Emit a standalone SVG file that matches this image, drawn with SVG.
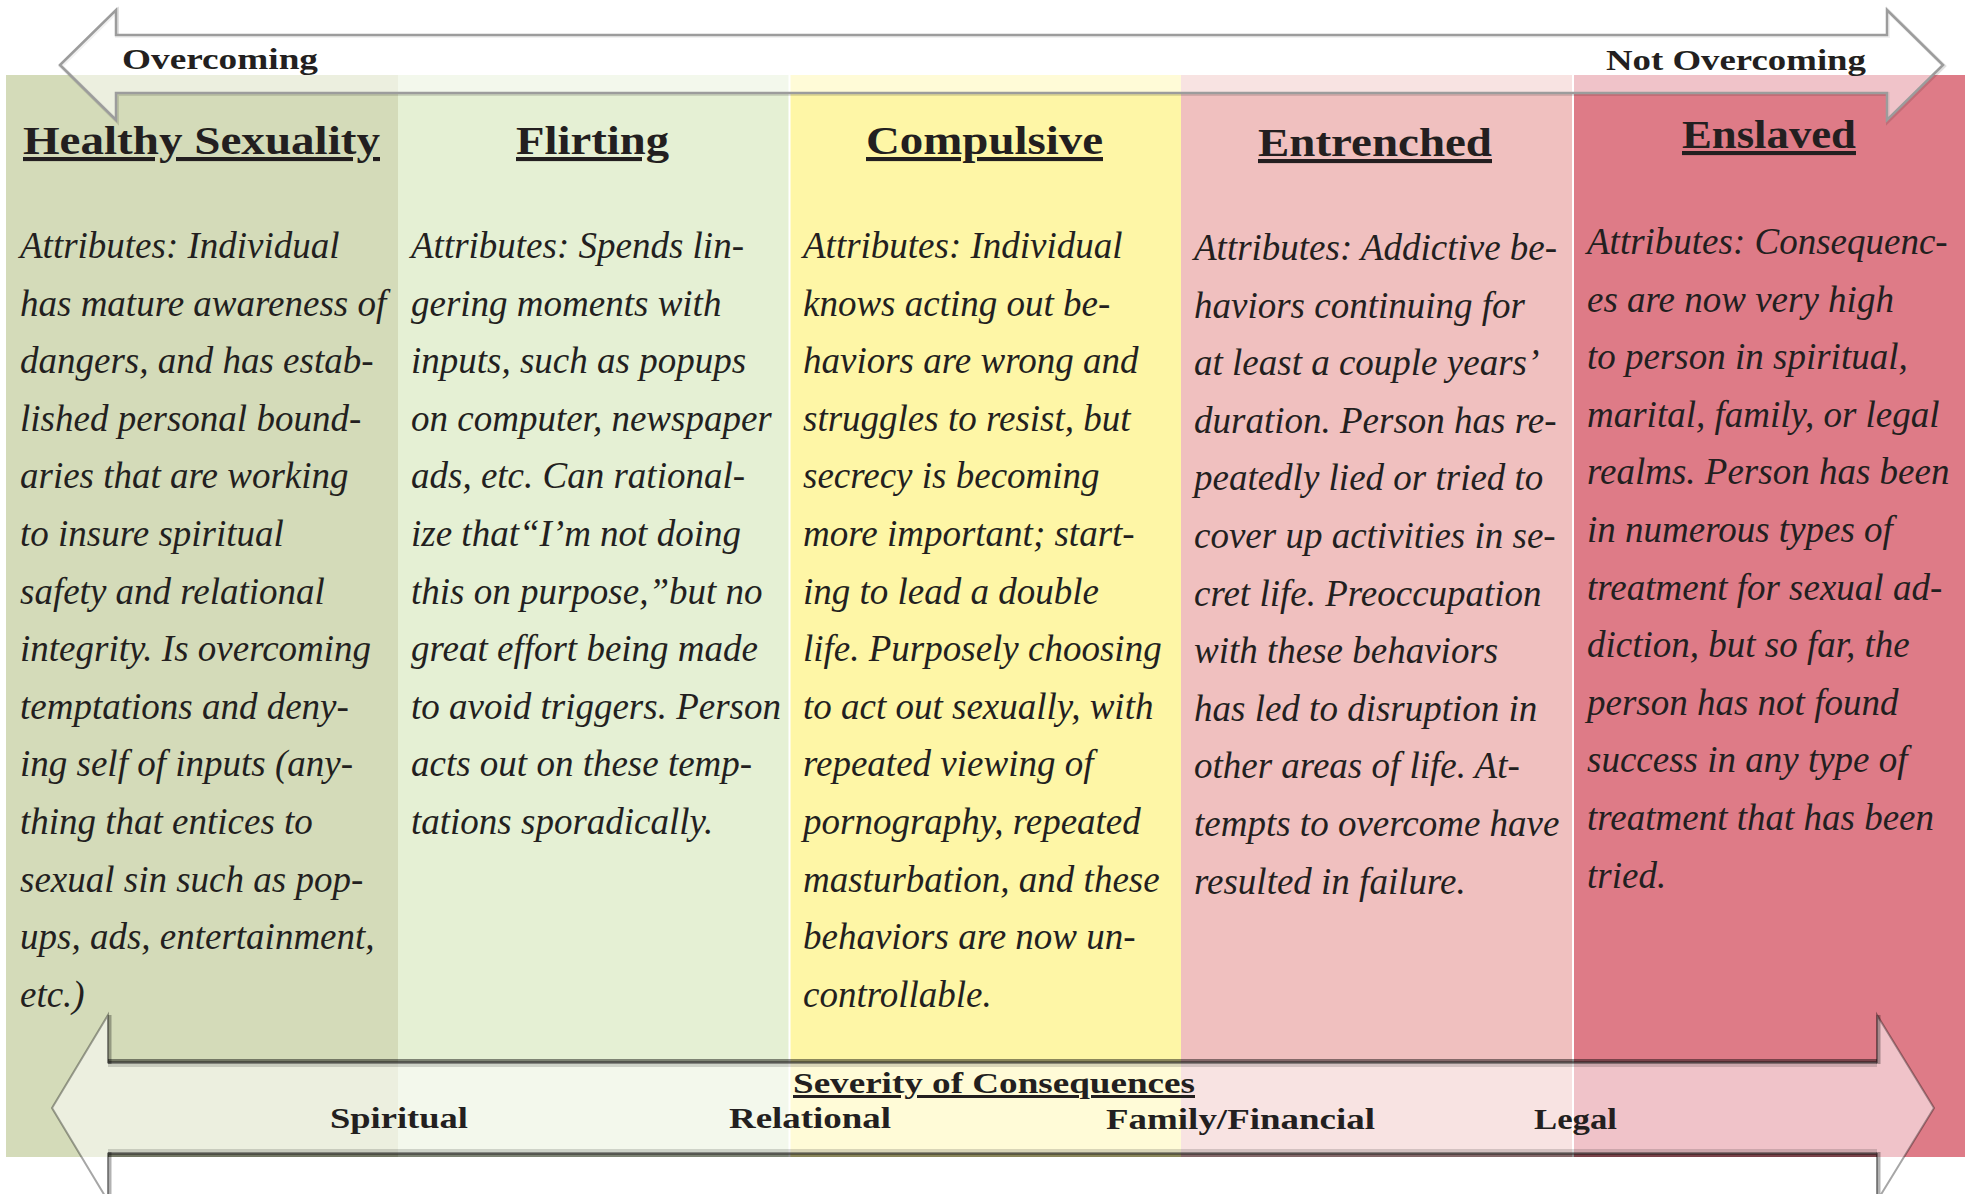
<svg xmlns="http://www.w3.org/2000/svg" width="1973" height="1194" viewBox="0 0 1973 1194">
<style>
.panel{stroke:none}
.head{font-family:"Liberation Serif","Times New Roman",serif;font-weight:bold;font-size:41px;fill:#231f20;text-anchor:middle;text-decoration:underline}
.body{font-family:"Liberation Serif","Times New Roman",serif;font-style:italic;font-size:37px;fill:#231f20}
.lbl{font-family:"Liberation Serif","Times New Roman",serif;font-weight:bold;font-size:30px;fill:#231f20}
.sev{text-decoration:underline}
.arrowfill{fill:#ffffff;fill-opacity:0.55}
.sep{stroke:#ffffff;stroke-width:2}
</style>
<rect width="1973" height="1194" fill="#ffffff"/>

<g id="col-healthy">
<rect class="panel" x="6" y="75" width="392" height="1082" fill="#d4dbb9"/>
<text class="head" x="201.5" y="154" textLength="357" lengthAdjust="spacingAndGlyphs">Healthy Sexuality</text>
<text class="body" x="20" y="258">
<tspan x="20">Attributes: Individual</tspan>
<tspan x="20" dy="57.6">has mature awareness of</tspan>
<tspan x="20" dy="57.6">dangers, and has estab-</tspan>
<tspan x="20" dy="57.6">lished personal bound-</tspan>
<tspan x="20" dy="57.6">aries that are working</tspan>
<tspan x="20" dy="57.6">to insure spiritual</tspan>
<tspan x="20" dy="57.6">safety and relational</tspan>
<tspan x="20" dy="57.6">integrity. Is overcoming</tspan>
<tspan x="20" dy="57.6">temptations and deny-</tspan>
<tspan x="20" dy="57.6">ing self of inputs (any-</tspan>
<tspan x="20" dy="57.6">thing that entices to</tspan>
<tspan x="20" dy="57.6">sexual sin such as pop-</tspan>
<tspan x="20" dy="57.6">ups, ads, entertainment,</tspan>
<tspan x="20" dy="57.6">etc.)</tspan>
</text>
</g>

<g id="col-flirting">
<rect class="panel" x="398" y="75" width="392" height="1082" fill="#e5f0d4"/>
<text class="head" x="592.5" y="154" textLength="153" lengthAdjust="spacingAndGlyphs">Flirting</text>
<text class="body" x="411" y="258">
<tspan x="411">Attributes: Spends lin-</tspan>
<tspan x="411" dy="57.6">gering moments with</tspan>
<tspan x="411" dy="57.6">inputs, such as popups</tspan>
<tspan x="411" dy="57.6">on computer, newspaper</tspan>
<tspan x="411" dy="57.6">ads, etc. Can rational-</tspan>
<tspan x="411" dy="57.6">ize that“I’m not doing</tspan>
<tspan x="411" dy="57.6">this on purpose,”but no</tspan>
<tspan x="411" dy="57.6">great effort being made</tspan>
<tspan x="411" dy="57.6">to avoid triggers. Person</tspan>
<tspan x="411" dy="57.6">acts out on these temp-</tspan>
<tspan x="411" dy="57.6">tations sporadically.</tspan>
</text>
</g>

<g id="col-compulsive">
<rect class="panel" x="790" y="75" width="391" height="1082" fill="#fef6a6"/>
<text class="head" x="984.5" y="154" textLength="237" lengthAdjust="spacingAndGlyphs">Compulsive</text>
<text class="body" x="803" y="258">
<tspan x="803">Attributes: Individual</tspan>
<tspan x="803" dy="57.6">knows acting out be-</tspan>
<tspan x="803" dy="57.6">haviors are wrong and</tspan>
<tspan x="803" dy="57.6">struggles to resist, but</tspan>
<tspan x="803" dy="57.6">secrecy is becoming</tspan>
<tspan x="803" dy="57.6">more important; start-</tspan>
<tspan x="803" dy="57.6">ing to lead a double</tspan>
<tspan x="803" dy="57.6">life. Purposely choosing</tspan>
<tspan x="803" dy="57.6">to act out sexually, with</tspan>
<tspan x="803" dy="57.6">repeated viewing of</tspan>
<tspan x="803" dy="57.6">pornography, repeated</tspan>
<tspan x="803" dy="57.6">masturbation, and these</tspan>
<tspan x="803" dy="57.6">behaviors are now un-</tspan>
<tspan x="803" dy="57.6">controllable.</tspan>
</text>
</g>

<g id="col-entrenched">
<rect class="panel" x="1181" y="75" width="392" height="1082" fill="#f0c0bf"/>
<text class="head" x="1375" y="156" textLength="234" lengthAdjust="spacingAndGlyphs">Entrenched</text>
<text class="body" x="1194" y="260">
<tspan x="1194">Attributes: Addictive be-</tspan>
<tspan x="1194" dy="57.6">haviors continuing for</tspan>
<tspan x="1194" dy="57.6">at least a couple years’</tspan>
<tspan x="1194" dy="57.6">duration. Person has re-</tspan>
<tspan x="1194" dy="57.6">peatedly lied or tried to</tspan>
<tspan x="1194" dy="57.6">cover up activities in se-</tspan>
<tspan x="1194" dy="57.6">cret life. Preoccupation</tspan>
<tspan x="1194" dy="57.6">with these behaviors</tspan>
<tspan x="1194" dy="57.6">has led to disruption in</tspan>
<tspan x="1194" dy="57.6">other areas of life. At-</tspan>
<tspan x="1194" dy="57.6">tempts to overcome have</tspan>
<tspan x="1194" dy="57.6">resulted in failure.</tspan>
</text>
</g>

<g id="col-enslaved">
<rect class="panel" x="1573" y="75" width="392" height="1082" fill="#de7b87"/>
<text class="head" x="1769" y="148" textLength="174" lengthAdjust="spacingAndGlyphs">Enslaved</text>
<text class="body" x="1587" y="254">
<tspan x="1587">Attributes: Consequenc-</tspan>
<tspan x="1587" dy="57.6">es are now very high</tspan>
<tspan x="1587" dy="57.6">to person in spiritual,</tspan>
<tspan x="1587" dy="57.6">marital, family, or legal</tspan>
<tspan x="1587" dy="57.6">realms. Person has been</tspan>
<tspan x="1587" dy="57.6">in numerous types of</tspan>
<tspan x="1587" dy="57.6">treatment for sexual ad-</tspan>
<tspan x="1587" dy="57.6">diction, but so far, the</tspan>
<tspan x="1587" dy="57.6">person has not found</tspan>
<tspan x="1587" dy="57.6">success in any type of</tspan>
<tspan x="1587" dy="57.6">treatment that has been</tspan>
<tspan x="1587" dy="57.6">tried.</tspan>
</text>
</g>

<g id="separators">
<line class="sep" x1="789.5" y1="75" x2="789.5" y2="1157"/>
<line class="sep" x1="1573" y1="75" x2="1573" y2="1157"/>
</g>

<g id="connectors">
<g id="top-arrow">
<path d="M61,66 L117,11 L117,36 L1888,36 L1888,11 L1944,66 L1888,121 L1888,94 L117,94 L117,121 Z" fill="none" stroke="#000" stroke-opacity="0.12" stroke-width="4"/>
<path class="arrowfill" d="M60,65 L116,10 L116,35 L1887,35 L1887,10 L1943,65 L1887,120 L1887,93 L116,93 L116,120 Z" stroke="#9c9c9c" stroke-width="2.5" stroke-linejoin="miter"/>
<text class="lbl" x="122" y="69" textLength="196" lengthAdjust="spacingAndGlyphs">Overcoming</text>
<text class="lbl" x="1606" y="70" textLength="260" lengthAdjust="spacingAndGlyphs">Not Overcoming</text>
</g>
<g id="bottom-arrow">
<path class="arrowfill" d="M52,1108 L108,1015 L108,1062 L1877,1062 L1877,1015 L1934,1108 L1877,1201 L1877,1154 L108,1154 L108,1201 Z" stroke="#000" stroke-opacity="0.35" stroke-width="2"/>
<line x1="108" y1="1061.5" x2="1877" y2="1061.5" stroke="#000" stroke-opacity="0.45" stroke-width="5"/>
<line x1="108" y1="1065.5" x2="1877" y2="1065.5" stroke="#000" stroke-opacity="0.15" stroke-width="3"/>
<line x1="108" y1="1154.5" x2="1877" y2="1154.5" stroke="#000" stroke-opacity="0.45" stroke-width="5"/>
<line x1="108" y1="1150.5" x2="1877" y2="1150.5" stroke="#000" stroke-opacity="0.15" stroke-width="3"/>
<line x1="109.5" y1="1015" x2="109.5" y2="1064" stroke="#000" stroke-opacity="0.3" stroke-width="4"/>
<line x1="109.5" y1="1152" x2="109.5" y2="1194" stroke="#000" stroke-opacity="0.3" stroke-width="4"/>
<line x1="1878.5" y1="1015" x2="1878.5" y2="1064" stroke="#000" stroke-opacity="0.3" stroke-width="4"/>
<line x1="1878.5" y1="1152" x2="1878.5" y2="1194" stroke="#000" stroke-opacity="0.3" stroke-width="4"/>
<text class="lbl sev" x="793" y="1093" textLength="402" lengthAdjust="spacingAndGlyphs">Severity of Consequences</text>
<text class="lbl" x="330" y="1128" textLength="138" lengthAdjust="spacingAndGlyphs">Spiritual</text>
<text class="lbl" x="729" y="1128" textLength="162" lengthAdjust="spacingAndGlyphs">Relational</text>
<text class="lbl" x="1106" y="1129" textLength="269" lengthAdjust="spacingAndGlyphs">Family/Financial</text>
<text class="lbl" x="1534" y="1129" textLength="83" lengthAdjust="spacingAndGlyphs">Legal</text>
</g>
</g>
</svg>
